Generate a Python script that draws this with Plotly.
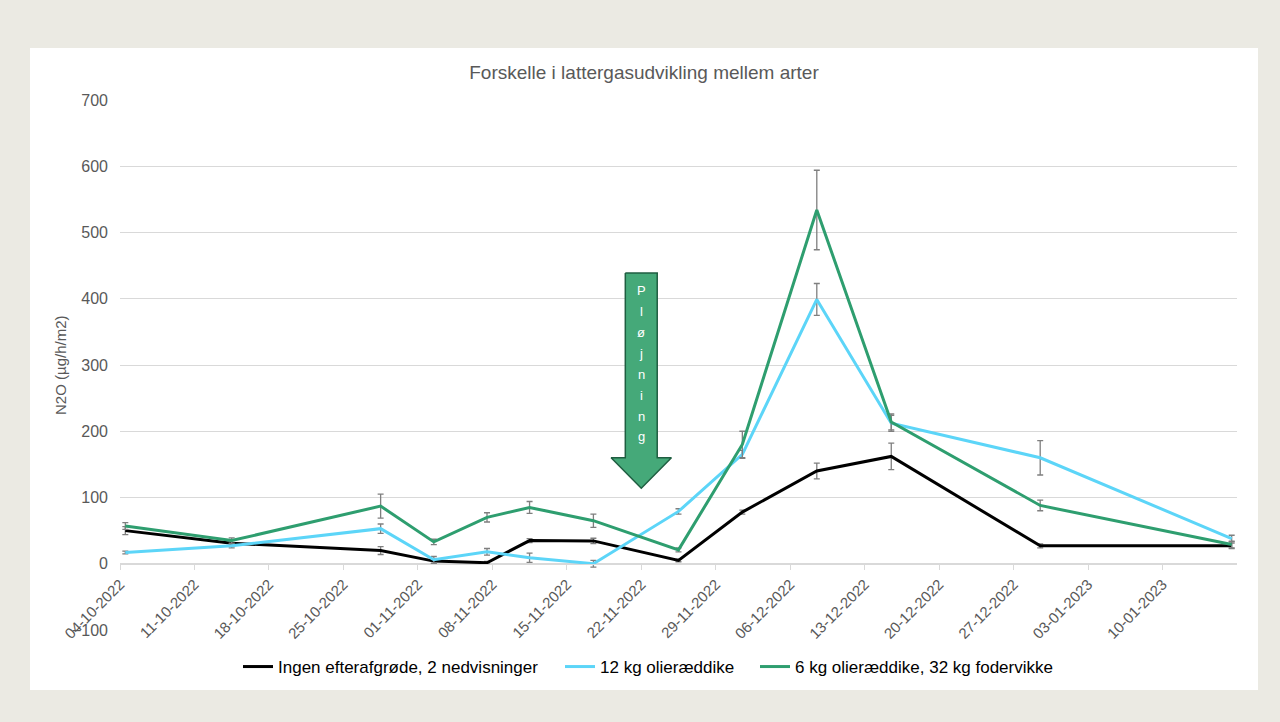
import pandas as pd
import plotly.graph_objects as go

# ---- data ----
dates = ["2022-10-04", "2022-10-14", "2022-10-28", "2022-11-02", "2022-11-07",
         "2022-11-11", "2022-11-17", "2022-11-25", "2022-12-01", "2022-12-08",
         "2022-12-15", "2022-12-29", "2023-01-16"]

series_names = ["Ingen efterafgrøde, 2 nedvisninger",
                "12 kg olieræddike",
                "6 kg olieræddike, 32 kg fodervikke"]

ingen = [50, 31, 20, 4, 1.5, 35, 34.5, 5, 78, 140, 162, 27, 27]
ingen_err = [6, 4, 6, 4, 2, 3, 4, 2, 3, 12, 20, 3, 4]

oliereddike = [17, 27, 53, 6, 18, 9, 0, 79, 165, 399, 212, 160, 38]
oliereddike_err = [2, 3, 7, 5, 5, 7, 5, 4, 6, 24, 12, 26, 5]

blanding = [57, 35, 87, 33, 70, 85, 65, 21, 180, 534, 214, 88, 29]
blanding_err = [5, 4, 18, 4, 7, 9, 10, 3, 20, 60, 12, 8, 5]

tick_dates = pd.date_range("2022-10-04", "2023-01-10", freq="7D")
tick_labels = [d.strftime("%d-%m-%Y") for d in tick_dates]

arrow_date = "2022-11-22"
arrow_text = "Pløjning"

colors = ["#000000", "#5CD5F8", "#2E9E6F"]
font_fam = "Liberation Sans, Arial, sans-serif"
txt_col = "#595959"

# layout geometry (pixels)
L, R, T, B = 120, 43, 100, 92
W, H = 1280, 722
pw, ph = W - L - R, H - T - B
legend_px = [238, 560, 755]          # left edge of each legend entry
legend_ids = ["legend", "legend2", "legend3"]

# Excel date axis places each point in the middle of its day
x = pd.to_datetime(dates) + pd.Timedelta(hours=12)

fig = go.Figure()

# Ploughing arrow (drawn as a filled polygon in data space)
ad = pd.Timestamp(arrow_date)
box_hw = pd.Timedelta(hours=36)
head_hw = pd.Timedelta(hours=68)
y_top, y_base, y_tip = 439, 160, 114
ax = [ad - box_hw, ad + box_hw, ad + box_hw, ad + head_hw, ad, ad - head_hw, ad - box_hw, ad - box_hw]
ay = [y_top, y_top, y_base, y_base, y_tip, y_base, y_base, y_top]
fig.add_trace(go.Scatter(x=ax, y=ay, mode="lines", fill="toself",
                         fillcolor="#45A979", line=dict(color="#1F5E41", width=1.5),
                         hoverinfo="skip", showlegend=False))

for name, vals, errs, col, lg in zip(series_names,
                                     [ingen, oliereddike, blanding],
                                     [ingen_err, oliereddike_err, blanding_err],
                                     colors, legend_ids):
    fig.add_trace(go.Scatter(
        x=x, y=vals, name=name, mode="lines", legend=lg,
        line=dict(color=col, width=3),
        error_y=dict(type="data", array=errs, visible=True,
                     color="#7F7F7F", thickness=1.3, width=3),
    ))

# letters inside the arrow
for i, ch in enumerate(arrow_text):
    fig.add_annotation(x=ad, y=412 - i * 31.5, text=ch, showarrow=False,
                       font=dict(family=font_fam, size=13, color="#FFFFFF"),
                       xref="x", yref="y")

# white panel behind chart
fig.add_shape(type="rect", xref="paper", yref="paper", layer="below",
              x0=(30 - L) / pw, x1=(1258 - L) / pw,
              y0=(H - B - 690) / ph, y1=(H - B - 48) / ph,
              fillcolor="#FFFFFF", line=dict(width=0))

center_x = (644 - L) / pw

# y-axis title
fig.add_annotation(text="N2O (µg/h/m2)", xref="paper", yref="paper",
                   x=(60 - L) / pw, y=0.5, textangle=-90, showarrow=False,
                   xanchor="center", yanchor="middle",
                   font=dict(size=15, color=txt_col, family=font_fam))

legend_style = dict(orientation="h", xanchor="left",
                    y=(H - B - 667) / ph, yanchor="middle",
                    font=dict(size=17, color="#000000", family=font_fam),
                    bgcolor="rgba(0,0,0,0)", itemwidth=30)
legends = {lg: dict(legend_style, x=(px - L) / pw) for lg, px in zip(legend_ids, legend_px)}

fig.update_layout(
    width=W, height=H,
    margin=dict(l=L, r=R, t=T, b=B),
    paper_bgcolor="#EBEAE3",
    plot_bgcolor="#FFFFFF",
    font=dict(family=font_fam, color=txt_col, size=15),
    title=dict(text="Forskelle i lattergasudvikling mellem arter",
               x=center_x, xref="paper", xanchor="center",
               y=(H - 72) / H, yanchor="middle",
               font=dict(size=19, color=txt_col, family=font_fam)),
    showlegend=True,
    xaxis=dict(
        type="date",
        range=["2022-10-04", "2023-01-17"],
        tickvals=tick_dates, ticktext=tick_labels,
        tickangle=-45,
        anchor="free", position=100 / 800,
        showgrid=False, zeroline=False,
        showline=True, linecolor="#D9D9D9", linewidth=1,
        ticks="outside", ticklen=5, tickcolor="#D9D9D9",
        tickfont=dict(size=15, color=txt_col),
    ),
    yaxis=dict(
        range=[-100, 700], dtick=100,
        showgrid=True, gridcolor="#D9D9D9", gridwidth=1,
        zeroline=False, showline=False,
        ticks="", ticklabelstandoff=11,
        tickfont=dict(size=16, color=txt_col),
    ),
    **legends,
)

fig.write_html("out.html")
